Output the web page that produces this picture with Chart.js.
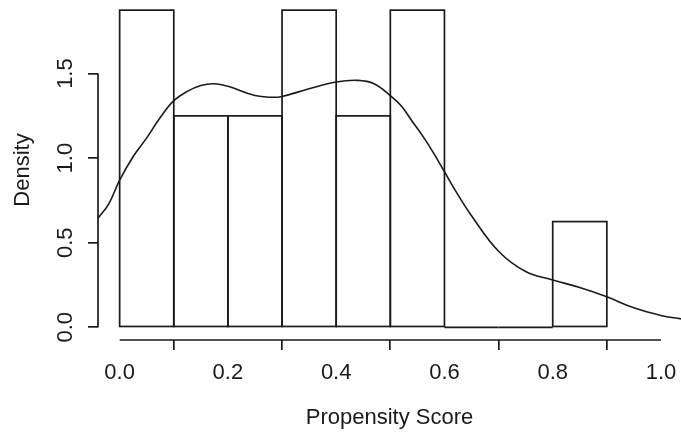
<!DOCTYPE html>
<html>
<head>
<meta charset="utf-8">
<script src="https://cdn.jsdelivr.net/npm/chart.js@4.4.0/dist/chart.umd.min.js"></script>
<style>
  html, body { margin: 0; padding: 0; background: #fff; overflow: hidden; }
</style>
</head>
<body>
<canvas id="psChart" width="681" height="432"></canvas>
<script>
// histogram bins (propensity score) and their densities
const binEdges = [0, 0.1, 0.2, 0.3, 0.4, 0.5, 0.6, 0.7, 0.8, 0.9];
const binDensity = [1.875, 1.25, 1.25, 1.875, 1.25, 1.875, 0, 0, 0.625];

// kernel density curve
const densX = [-0.04, -0.02, 0, 0.025, 0.05, 0.075, 0.1, 0.125, 0.15, 0.175, 0.2, 0.25, 0.28, 0.3, 0.35, 0.4, 0.44, 0.47, 0.5, 0.52, 0.54, 0.56, 0.58, 0.6, 0.62, 0.65, 0.7, 0.75, 0.8, 0.85, 0.9, 0.95, 1.0, 1.037];
const densY = [0.645, 0.73, 0.87, 1.01, 1.12, 1.24, 1.34, 1.395, 1.43, 1.44, 1.425, 1.37, 1.36, 1.365, 1.41, 1.45, 1.46, 1.44, 1.37, 1.31, 1.22, 1.13, 1.03, 0.92, 0.81, 0.66, 0.45, 0.33, 0.28, 0.235, 0.18, 0.115, 0.07, 0.05];

// axis ticks
const xTicks = [0, 0.2, 0.4, 0.6, 0.8, 1.0];
const yTicks = [0, 0.5, 1.0, 1.5];

const ink = "#1a1a1a";
const font = { family: "'Liberation Sans', Arial, sans-serif", size: 22 };

const histPoints = binDensity.map((d, i) => ({ x: (binEdges[i] + binEdges[i + 1]) / 2, y: d }));
const curvePoints = densX.map((x, i) => ({ x: x, y: densY[i] }));

//Draws the bar outlines (shared edges) and the R style axis lines
const rStyle = {
  id: "rStyle",
  beforeDatasetsDraw(chart) {
    const ctx = chart.ctx;
    const meta = chart.getDatasetMeta(1);
    ctx.save();
    ctx.strokeStyle = ink;
    ctx.lineWidth = 1.7;
    meta.data.forEach((bar) => {
      const p = bar.getProps(["x", "y", "base", "width"], true);
      ctx.strokeRect(p.x - p.width / 2, p.y, p.width, p.base - p.y);
    });
    ctx.restore();
  },
  afterDraw(chart) {
    const ctx = chart.ctx;
    const xs = chart.scales.x;
    const ys = chart.scales.y;
    const area = chart.chartArea;
    ctx.save();
    ctx.strokeStyle = ink;
    ctx.lineWidth = 1.7;
    ctx.beginPath();
    ctx.moveTo(area.left, ys.getPixelForValue(yTicks[0]));
    ctx.lineTo(area.left, ys.getPixelForValue(yTicks[yTicks.length - 1]));
    ctx.moveTo(xs.getPixelForValue(xTicks[0]), area.bottom);
    ctx.lineTo(xs.getPixelForValue(xTicks[xTicks.length - 1]), area.bottom);
    ctx.stroke();
    ctx.restore();
  },
};

new Chart(document.getElementById("psChart"), {
  type: "bar",
  data: {
    datasets: [
      {
        type: "line",
        data: curvePoints,
        borderColor: ink,
        borderWidth: 1.6,
        pointRadius: 0,
        fill: false,
        tension: 0.4,
      },
      {
        type: "bar",
        data: histPoints,
        backgroundColor: "rgba(0,0,0,0)",
        borderWidth: 0,
        barPercentage: 1,
        categoryPercentage: 1,
      },
    ],
  },
  options: {
    responsive: false,
    animation: false,
    devicePixelRatio: 1,
    layout: { padding: 0 },
    plugins: { legend: { display: false }, tooltip: { enabled: false } },
    scales: {
      x: {
        type: "linear",
        offset: false,
        min: -0.04,
        max: 1.037,
        afterBuildTicks: (scale) => { scale.ticks = xTicks.map((v) => ({ value: v })); },
        afterFit: (scale) => {
          scale.height = 92;
          scale.paddingLeft = 0;
          scale.paddingRight = 0;
        },
        grid: { display: true, drawOnChartArea: false, drawTicks: true, tickLength: 10, color: ink, lineWidth: 1.7 },
        border: { display: false },
        ticks: { font: font, color: ink, padding: 10, maxRotation: 0, callback: (v) => v.toFixed(1) },
        title: { display: true, text: "Propensity Score", font: font, color: ink, padding: { top: 0, bottom: 1 } },
      },
      y: {
        min: -0.075,
        max: 1.935,
        afterBuildTicks: (scale) => { scale.ticks = yTicks.map((v) => ({ value: v })); },
        afterFit: (scale) => {
          scale.width = 98;
          scale.paddingTop = 0;
          scale.paddingBottom = 0;
        },
        grid: { display: true, drawOnChartArea: false, drawTicks: true, tickLength: 10, color: ink, lineWidth: 1.7 },
        border: { display: false },
        ticks: { font: font, color: ink, padding: 7, minRotation: 90, maxRotation: 90, crossAlign: "center", callback: (v) => v.toFixed(1) },
        title: { display: true, text: "Density", font: font, color: ink, padding: { top: 10, bottom: 0 } },
      },
    },
  },
  plugins: [rStyle],
});
</script>
</body>
</html>
